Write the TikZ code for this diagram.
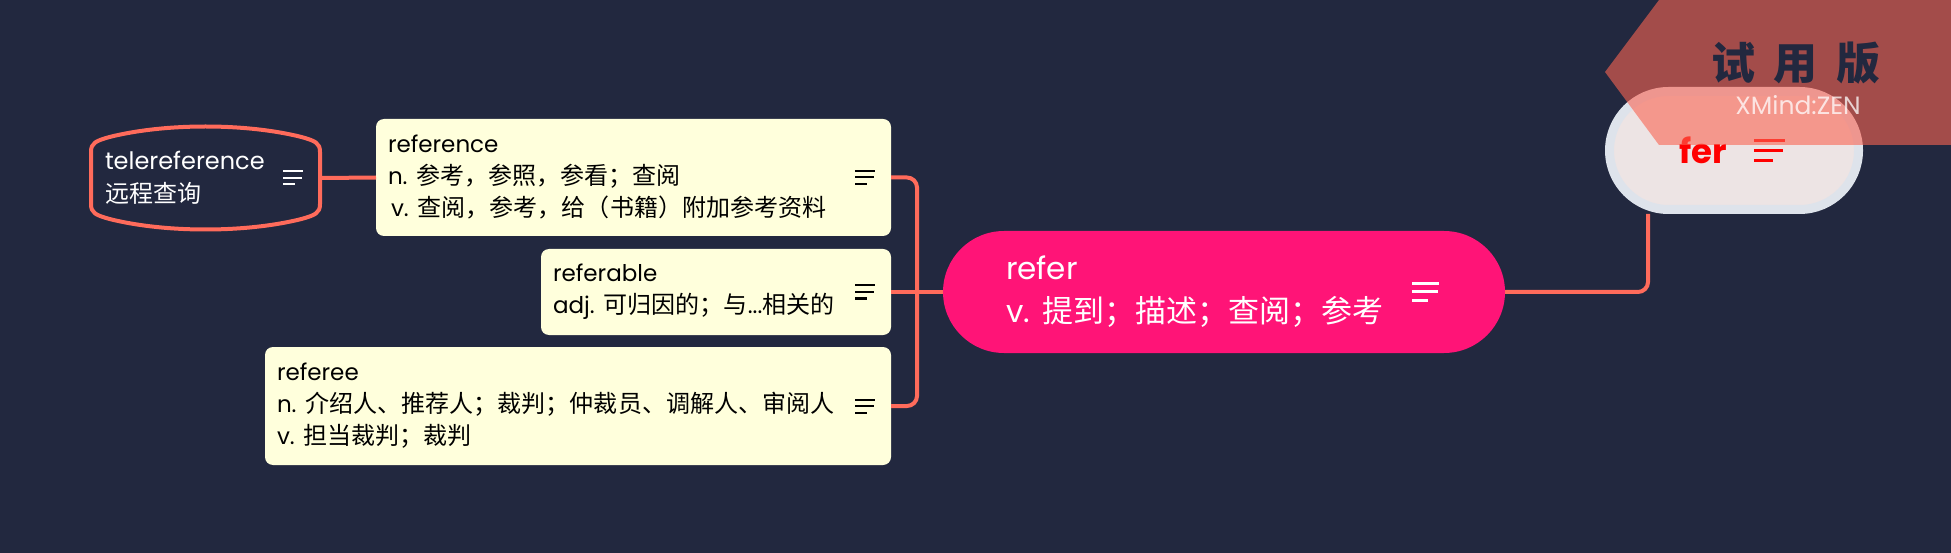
\documentclass[tikz,border=0pt]{standalone}
\usepackage{fontspec}
\setmainfont{Poppins}
\newfontfamily\cjk{Noto Sans CJK SC}
\newfontfamily\cjkn[Scale=1.045]{Noto Sans CJK SC}
\definecolor{bgc}{RGB}{34,40,63}
\definecolor{linkc}{RGB}{255,107,91}
\definecolor{pinkc}{RGB}{255,20,119}
\definecolor{notec}{RGB}{255,255,220}
\definecolor{pillc}{RGB}{237,228,228}
\definecolor{rimc}{RGB}{222,227,235}
\definecolor{markc}{RGB}{250,100,82}
\begin{document}
\begin{tikzpicture}[x=1pt,y=-1pt,
	link/.style={draw=linkc,line width=4pt,rounded corners=10pt},
	notebox/.style={fill=notec,rounded corners=8pt,inner xsep=12pt,inner ysep=0pt,outer sep=0pt,align=left,text=black,font=\fontsize{23}{32}\selectfont},
	notes/.pic={\draw (0,-6.5) -- (20,-6.5) (0,0) -- (19,0) (0,6.5) -- (12,6.5);}]
	\fill[bgc] (0,0) rectangle (1951,553);
	\useasboundingbox (0,0) rectangle (1951,553);
	% topics
	\node[notebox,text width=491pt,minimum height=117pt] (referencenode) at (633.5,177.5) {reference\\n.\hspace{9pt}{\cjkn 参考，参照，参看；查阅}\\\hspace{3pt}v.\hspace{9pt}{\cjkn 查阅，参考，给（书籍）附加参考资料}};
	\node[notebox,text width=326pt,minimum height=86pt] (referablenode) at (716,292) {referable\\adj.\hspace{9pt}{\cjkn 可归因的；与}...{\cjkn 相关的}};
	\node[notebox,text width=602pt,minimum height=118pt] (refereenode) at (578,406) {referee\\n.\hspace{9pt}{\cjkn 介绍人、推荐人；裁判；仲裁员、调解人、审阅人}\\v.\hspace{9pt}{\cjkn 担当裁判；裁判}};
	\node[fill=pinkc,rounded corners=61pt,minimum height=122pt,text width=436pt,inner xsep=63pt,inner ysep=0pt,outer sep=0pt,align=left,text=white,font=\fontsize{31}{43}\selectfont] (refernode) at (1224,292) {refer\\v.\hspace{13pt}{\cjk 提到；描述；查阅；参考}};
	\node[draw=rimc,line width=9pt,fill=pillc,rounded corners=59pt,minimum height=118pt,text width=109pt,inner xsep=70pt,inner ysep=0pt,align=left,text=red,font=\fontsize{34}{40}\selectfont\bfseries] (fernode) at (1734,150.5) {fer};
	\node[minimum height=108pt,text width=201pt,inner xsep=16pt,inner ysep=0pt,outer sep=0pt,align=left,text=white,font=\fontsize{24}{33}\selectfont] (telerefnode) at (205.5,178) {telereference\\{\cjk 远程查询}};
	\begin{scope}[shift={(telerefnode.center)}]
		\draw[linkc,line width=4pt] (-114.5,-26) -- (-114.5,26) .. controls (-114.5,35) and (-110,37) .. (-96,41) .. controls (-40,55) and (40,55) .. (96,41) .. controls (110,37) and (114.5,35) .. (114.5,26) -- (114.5,-26) .. controls (114.5,-35) and (110,-37) .. (96,-41) .. controls (40,-55) and (-40,-55) .. (-96,-41) .. controls (-110,-37) and (-114.5,-35) .. (-114.5,-26) -- cycle;
	\end{scope}
	% connectors
	\coordinate (spine) at (917,292);
	\draw[link] (refernode.west) -- (referablenode.east);
	\draw[link] (referencenode.east) -| (spine) |- (refereenode.east);
	\draw[link] ([xshift=-86pt]fernode.south) |- (refernode.east);
	\draw[link] (telerefnode.east) -- (referencenode.west);
	% note icons
	\foreach \nd in {referencenode,referablenode,refereenode}
	\pic[black,line width=2pt] at ([xshift=-36pt]\nd.east) {notes};
	\pic[white,line width=2pt] at ([xshift=-39pt]telerefnode.east) {notes};
	\pic[white,line width=3pt,scale=1.35] at ([xshift=-93pt]refernode.east) {notes};
	\pic[red,line width=3.5pt,scale=1.55] at ([xshift=-109pt]fernode.east) {notes};
	% trial mark
	\fill[markc,opacity=0.6] (1659,0) -- (1951,0) -- (1951,145) -- (1659,145) -- (1605,72) -- cycle;
	\node[anchor=base,text=bgc,font=\cjk\fontsize{44}{44}\selectfont\bfseries] (wmtitle) at (1796,80) {试\hspace{19pt}用\hspace{19pt}版};
	\node[anchor=base,text=white,opacity=0.75,font=\fontsize{25}{25}\selectfont] (wmbrand) at (1798,115) {XMind:ZEN};
\end{tikzpicture}
\end{document}
